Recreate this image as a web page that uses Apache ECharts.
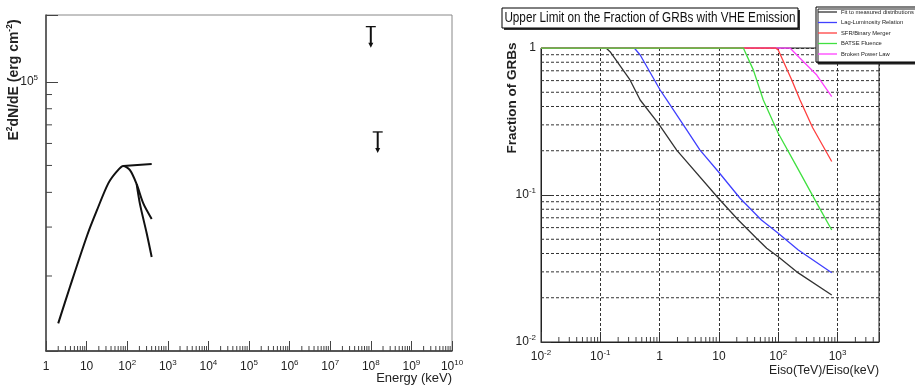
<!DOCTYPE html>
<html>
<head>
<meta charset="utf-8">
<script src="https://cdn.jsdelivr.net/npm/echarts@6/dist/echarts.min.js"></script>
<style>
  html, body { margin: 0; padding: 0; background: #fff; }
  #chart { width: 915px; height: 387px; }
</style>
</head>
<body>
<div id="chart"></div>
<script>
// ---- left panel: spectrum E^2 dN/dE vs Energy (keV) ----
const specEnergy = [2.0, 3.9, 10.4, 17.7, 34.2, 55, 80, 117, 171, 249, 401];
const specFlux = [1.35e4, 1.83e4, 2.81e4, 3.43e4, 4.31e4, 4.75e4, 4.98e4, 4.81e4, 4.28e4, 3.65e4, 3.21e4];
const steepEnergy = [171, 207, 302, 401];
const steepFlux = [4.28e4, 3.62e4, 2.85e4, 2.34e4];
const flatEnergy = [80, 401];
const flatFlux = [4.98e4, 5.06e4];
const ulEnergy = [1.0e8, 1.48e8];
const ulFlux = [1.58e5, 6.6e4];

// ---- right panel: fraction of GRBs vs Eiso(TeV)/Eiso(keV) ----
const fitX = [0.01, 0.125, 0.146, 0.317, 0.47, 0.95, 1.94, 9.8, 21.2, 43, 64, 100, 205, 798];
const fitY = [1, 1, 0.944, 0.606, 0.443, 0.307, 0.202, 0.095, 0.0676, 0.0508, 0.0434, 0.038, 0.030, 0.0209];
const lagX = [0.01, 0.374, 0.47, 1.02, 1.32, 2.86, 4.8, 9.8, 22.7, 52, 100, 218, 798];
const lagY = [1, 1, 0.896, 0.518, 0.443, 0.277, 0.202, 0.144, 0.095, 0.0676, 0.0549, 0.0423, 0.0296];
const sfrX = [0.01, 90, 100, 169, 233, 379, 798];
const sfrY = [1, 1, 0.968, 0.606, 0.443, 0.288, 0.169];
const batseX = [0.01, 25.8, 38, 56, 100, 205, 446, 798];
const batseY = [1, 1, 0.71, 0.443, 0.263, 0.156, 0.088, 0.0578];
const bplX = [0.01, 158, 233, 446, 798];
const bplY = [1, 1, 0.851, 0.655, 0.467];

const legendNames = ['Fit to measured distributions', 'Lag-Luminosity Relation', 'SFR/Binary Merger', 'BATSE Fluence', 'Broken Power Law'];

// axis ranges
const leftX = [1, 1e10], leftY = [1.074e4, 1.74e5];
const rightX = [0.01, 5000], rightY = [0.01, 1];

const FONT = '"Liberation Sans", Arial, Helvetica, sans-serif';

const zip = (xs, ys) => xs.map((x, i) => [x, ys[i]]);

// 2..9 x 10^n strictly inside (lo, hi)
function minorValues(lo, hi) {
  const out = [];
  for (let n = Math.floor(Math.log10(lo)); n <= Math.ceil(Math.log10(hi)); n++) {
    for (let k = 2; k <= 9; k++) {
      const v = k * Math.pow(10, n);
      if (v > lo * 1.0001 && v < hi / 1.0001) out.push(v);
    }
  }
  return out;
}

function powLabel(v) {
  const lg = Math.log10(v);
  const n = Math.round(lg);
  if (Math.abs(lg - n) > 1e-6) return '';
  if (n === 0) return '1';
  if (n === 1) return '10';
  return '10{sup|' + n + '}';
}

const labelRich = { sup: { fontSize: 8, lineHeight: 16, verticalAlign: 'top', fontFamily: FONT } };

function xTicks(gridIdx, yBase, len) {
  return {
    type: 'custom', xAxisIndex: gridIdx, yAxisIndex: gridIdx, silent: true, z: 3,
    data: minorValues(...(gridIdx === 0 ? leftX : rightX)).map(v => [v, yBase]),
    renderItem: (params, api) => {
      const p = api.coord([api.value(0), api.value(1)]);
      return { type: 'line', shape: { x1: p[0], y1: p[1], x2: p[0], y2: p[1] - len },
        style: { stroke: '#444', lineWidth: 1 } };
    }
  };
}

const leftYTicks = {
  type: 'custom', xAxisIndex: 0, yAxisIndex: 0, silent: true, z: 3,
  data: minorValues(...leftY).map(v => [leftX[0], v]),
  renderItem: (params, api) => {
    const p = api.coord([api.value(0), api.value(1)]);
    return { type: 'line', shape: { x1: p[0], y1: p[1], x2: p[0] + 6, y2: p[1] },
      style: { stroke: '#444', lineWidth: 1 } };
  }
};

const rightMinorGrid = {
  type: 'custom', xAxisIndex: 1, yAxisIndex: 1, silent: true, z: 1,
  data: minorValues(...rightY).map(v => [rightX[0], v]),
  renderItem: (params, api) => {
    const a = api.coord([rightX[0], api.value(1)]);
    const b = api.coord([rightX[1], api.value(1)]);
    return { type: 'line', shape: { x1: a[0], y1: a[1], x2: b[0], y2: b[1] },
      style: { stroke: '#333', lineWidth: 1, lineDash: [3, 2] } };
  }
};

const upperLimits = {
  type: 'custom', xAxisIndex: 0, yAxisIndex: 0, silent: true, z: 4,
  data: zip(ulEnergy, ulFlux),
  renderItem: (params, api) => {
    const p = api.coord([api.value(0), api.value(1)]);
    return { type: 'group', children: [
      { type: 'line', shape: { x1: p[0] - 5, y1: p[1], x2: p[0] + 5, y2: p[1] }, style: { stroke: '#111', lineWidth: 1.3 } },
      { type: 'line', shape: { x1: p[0], y1: p[1], x2: p[0], y2: p[1] + 17 }, style: { stroke: '#111', lineWidth: 2 } },
      { type: 'polygon', shape: { points: [[p[0] - 2.5, p[1] + 16], [p[0] + 2.5, p[1] + 16], [p[0], p[1] + 21]] }, style: { fill: '#111' } }
    ] };
  }
};

function specLine(data) {
  return { type: 'line', xAxisIndex: 0, yAxisIndex: 0, data, symbol: 'none', z: 4,
    smooth: 0.3, lineStyle: { color: '#111', width: 2 } };
}
function fracLine(name, data, color) {
  return { type: 'line', name, xAxisIndex: 1, yAxisIndex: 1, data, symbol: 'none', z: 4,
    color, lineStyle: { color, width: 1.3 } };
}

const chart = echarts.init(document.getElementById('chart'));
chart.setOption({
  animation: false,
  textStyle: { fontFamily: FONT },
  grid: [
    { left: 46, top: 15, width: 406, height: 336, show: true, borderColor: '#888', borderWidth: 1, backgroundColor: 'transparent' },
    { left: 541, top: 48, width: 338, height: 294, show: true, borderColor: '#222', borderWidth: 1, backgroundColor: 'transparent' }
  ],
  xAxis: [
    { type: 'log', gridIndex: 0, logBase: 10, min: leftX[0], max: leftX[1], interval: 1,
      axisLine: { lineStyle: { color: '#333', width: 1.5 } },
      axisTick: { inside: true, length: 10, lineStyle: { color: '#444' } },
      splitLine: { show: false },
      axisLabel: { formatter: powLabel, margin: 8, color: '#222', fontSize: 12, lineHeight: 16, rich: labelRich, showMaxLabel: true } },
    { type: 'log', gridIndex: 1, logBase: 10, min: rightX[0], max: rightX[1], interval: 1,
      axisLine: { lineStyle: { color: '#222', width: 1 } },
      axisTick: { inside: true, length: 10, lineStyle: { color: '#333' } },
      splitLine: { show: true, lineStyle: { color: '#333', width: 1, type: [3, 2] } },
      axisLabel: { formatter: powLabel, margin: 7, color: '#222', fontSize: 12, lineHeight: 16, rich: labelRich } }
  ],
  yAxis: [
    { type: 'log', gridIndex: 0, logBase: 10, min: leftY[0], max: leftY[1],
      axisLine: { lineStyle: { color: '#444', width: 1.5 } },
      axisTick: { inside: true, length: 12, lineStyle: { color: '#444' } },
      splitLine: { show: false },
      axisLabel: { formatter: powLabel, margin: 8, color: '#222', fontSize: 12, lineHeight: 16, rich: labelRich } },
    { type: 'log', gridIndex: 1, logBase: 10, min: rightY[0], max: rightY[1], interval: 1,
      axisLine: { lineStyle: { color: '#222', width: 1 } },
      axisTick: { inside: true, length: 10, lineStyle: { color: '#333' } },
      splitLine: { show: true, lineStyle: { color: '#333', width: 1, type: [3, 2] } },
      axisLabel: { formatter: powLabel, margin: 5, color: '#222', fontSize: 12, lineHeight: 16, rich: labelRich } }
  ],
  legend: {
    data: legendNames, orient: 'vertical', left: 816, top: 7,
    icon: 'rect', itemWidth: 19, itemHeight: 1.3, itemGap: 2.5, padding: [1, 4, 4, 2],
    backgroundColor: '#fff', borderColor: '#000', borderWidth: 1, borderRadius: 0,
    shadowColor: '#222', shadowBlur: 0, shadowOffsetX: 2, shadowOffsetY: 2,
    textStyle: { fontSize: 5.8, lineHeight: 8, color: '#222', padding: [0, 0, 0, -1] },
    selectedMode: false
  },
  graphic: [
    // title pave with shadow
    { type: 'rect', shape: { x: 504, y: 10, width: 296, height: 20 }, style: { fill: '#333' }, z: 100 },
    { type: 'rect', shape: { x: 502, y: 8, width: 296, height: 20 }, style: { fill: '#fff', stroke: '#000', lineWidth: 1 }, z: 101 },
    { type: 'text', x: 650, y: 18.5, scaleX: 0.82, z: 102,
      style: { text: 'Upper Limit on the Fraction of GRBs with VHE Emission', fontFamily: FONT, fontSize: 14.3,
        fill: '#111', align: 'center', verticalAlign: 'middle' } },
    // axis titles
    { type: 'text', x: 14, y: 80, rotation: Math.PI / 2, z: 102,
      style: { text: 'E{s|2}dN/dE (erg cm{s|-2})', fontFamily: FONT, fontSize: 14, fontWeight: 'bold',
        fill: '#222', align: 'center', verticalAlign: 'middle',
        rich: { s: { fontSize: 8.5, fontWeight: 'bold', verticalAlign: 'top', lineHeight: 17, fontFamily: FONT } } } },
    { type: 'text', x: 452, y: 378, z: 102,
      style: { text: 'Energy (keV)', fontFamily: FONT, fontSize: 13, fill: '#222', align: 'right', verticalAlign: 'middle' } },
    { type: 'text', x: 512, y: 98, rotation: Math.PI / 2, z: 102,
      style: { text: 'Fraction of GRBs', fontFamily: FONT, fontSize: 13.5, fontWeight: 'bold',
        fill: '#222', align: 'center', verticalAlign: 'middle' } },
    { type: 'text', x: 879, y: 371, z: 102,
      style: { text: 'Eiso(TeV)/Eiso(keV)', fontFamily: FONT, fontSize: 12.3, fill: '#222', align: 'right', verticalAlign: 'middle' } }
  ],
  series: [
    xTicks(0, leftY[0], 5),
    leftYTicks,
    specLine(zip(specEnergy, specFlux)),
    specLine(zip(steepEnergy, steepFlux)),
    specLine(zip(flatEnergy, flatFlux)),
    upperLimits,
    rightMinorGrid,
    xTicks(1, rightY[0], 5),
    fracLine(legendNames[0], zip(fitX, fitY), '#333'),
    fracLine(legendNames[1], zip(lagX, lagY), '#4040ff'),
    fracLine(legendNames[4], zip(bplX, bplY), '#ff40ff'),
    fracLine(legendNames[2], zip(sfrX, sfrY), '#ff4040'),
    fracLine(legendNames[3], zip(batseX, batseY), '#40e040')
  ]
});
</script>
</body>
</html>
